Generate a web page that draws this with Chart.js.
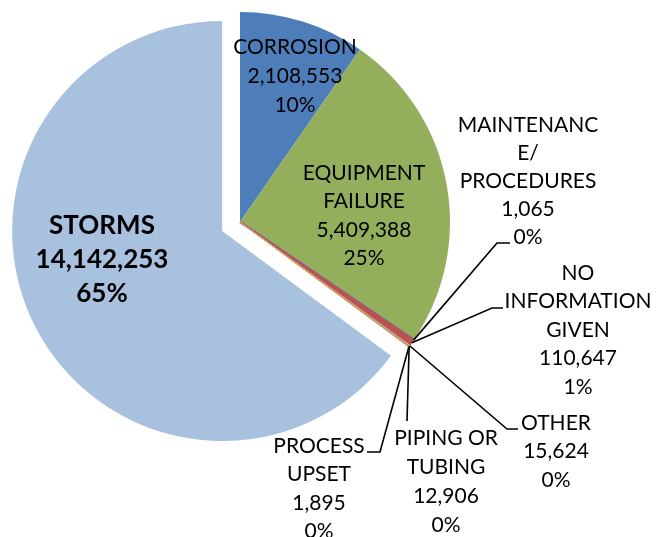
<!DOCTYPE html>
<html>
<head>
<meta charset="utf-8">
<script src="https://cdn.jsdelivr.net/npm/chart.js@4.4.0/dist/chart.umd.min.js"></script>
<style>
  html, body { margin: 0; padding: 0; background: #fff; }
  #wrap { width: 660px; height: 537px; }
</style>
</head>
<body>
<div id="wrap"><canvas id="grafico" width="660" height="537"></canvas></div>
<script>
// Datos del gráfico
const categorias = [
  ['CORROSION'],
  ['EQUIPMENT', 'FAILURE'],
  ['MAINTENANC', 'E/', 'PROCEDURES'],
  ['NO', 'INFORMATION', 'GIVEN'],
  ['OTHER'],
  ['PIPING OR', 'TUBING'],
  ['PROCESS', 'UPSET'],
  ['STORMS']
];
const valores = [2108553, 5409388, 1065, 110647, 15624, 12906, 1895, 14142253];
const colores = ['#4E7EBA', '#93AF5B', '#8064A2', '#C0504D', '#D9B68C', '#4BACC6', '#F79646', '#A7C1DF'];

// Separación (px) de la porción destacada
const separacion = [0, 0, 0, 0, 0, 0, 0, 20];

// Posición de cada etiqueta (centro x, primera línea y) y codos de la línea guía
const etiquetas = [
  { x: 295, y: 47, paso: 29 },
  { x: 364, y: 173, paso: 28.5 },
  { x: 528, y: 125, paso: 28, guia: [[497, 243], [510, 243]] },
  { x: 578, y: 273, paso: 28.5, guia: [[492, 308], [503, 308]] },
  { x: 556, y: 423, paso: 28.5, guia: [[507, 429], [518, 429]] },
  { x: 446, y: 438, paso: 29, guia: [[407, 421]] },
  { x: 319, y: 446, paso: 28.5, guia: [[380, 452], [367, 452]] },
  { x: 102, y: 226, paso: 34, negrita: true }
];

const total = valores.reduce((a, b) => a + b, 0);

// Desplaza la porción sin agrandar su radio (el offset de Chart.js lo agranda)
const separarPlugin = {
  id: 'separar',
  afterUpdate(chart) {
    chart.getDatasetMeta(0).data.forEach((arco, i) => {
      const d = separacion[i];
      if (!d || arco._separado) return;
      const dibujar = arco.draw;
      arco.draw = function (ctx) {
        const a = (this.startAngle + this.endAngle) / 2;
        ctx.save();
        ctx.translate(Math.cos(a) * d, Math.sin(a) * d);
        dibujar.call(this, ctx);
        ctx.restore();
      };
      arco._separado = true;
    });
  }
};

const etiquetasPlugin = {
  id: 'etiquetas',
  afterDatasetsDraw(chart) {
    const ctx = chart.ctx;
    const arcos = chart.getDatasetMeta(0).data;
    ctx.save();
    arcos.forEach((arco, i) => {
      const e = etiquetas[i];
      // Línea guía desde el borde de la porción
      if (e.guia) {
        const p = arco.getProps(['x', 'y', 'startAngle', 'endAngle', 'outerRadius'], true);
        const a = (p.startAngle + p.endAngle) / 2;
        ctx.beginPath();
        ctx.moveTo(p.x + Math.cos(a) * p.outerRadius, p.y + Math.sin(a) * p.outerRadius);
        e.guia.forEach(pt => ctx.lineTo(pt[0], pt[1]));
        ctx.strokeStyle = '#000';
        ctx.lineWidth = 1.6;
        ctx.stroke();
      }
      // Texto
      const lineas = categorias[i].concat([
        valores[i].toLocaleString('en-US'),
        Math.round(valores[i] / total * 100) + '%'
      ]);
      ctx.fillStyle = '#000';
      ctx.textAlign = 'center';
      ctx.textBaseline = 'middle';
      ctx.font = e.negrita ? 'bold 26px Lato' : '21px Lato';
      lineas.forEach((t, k) => ctx.fillText(t, e.x, e.y + k * e.paso));
    });
    ctx.restore();
  }
};

document.addEventListener('DOMContentLoaded', () => {
  const ctx = document.getElementById('grafico').getContext('2d');
  new Chart(ctx, {
    type: 'pie',
    data: {
      labels: categorias,
      datasets: [{
        data: valores,
        backgroundColor: colores,
        borderColor: colores,
        borderWidth: [0, 0, 2.5, 1, 1, 1, 1, 0],
        clip: false
      }]
    },
    options: {
      responsive: false,
      animation: false,
      events: [],
      radius: 210,
      layout: { padding: { left: 0, top: 0, right: 180, bottom: 93 } },
      plugins: {
        legend: { display: false },
        tooltip: { enabled: false }
      }
    },
    plugins: [separarPlugin, etiquetasPlugin]
  });
});
</script>
</body>
</html>
